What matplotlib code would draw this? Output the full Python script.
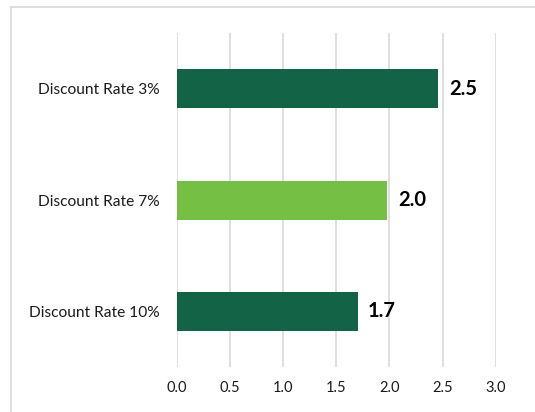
import matplotlib
matplotlib.use("Agg")
import matplotlib.pyplot as plt
from matplotlib.lines import Line2D

# --- DATA ---
categories = ["Discount Rate 3%", "Discount Rate 7%", "Discount Rate 10%"]
values = [2.46, 1.98, 1.70]
labels = ["2.5", "2.0", "1.7"]
bar_colors = ["#136446", "#74BF44", "#136446"]
xticks = [0.0, 0.5, 1.0, 1.5, 2.0, 2.5, 3.0]

plt.rcParams["font.family"] = ["Lato", "DejaVu Sans"]

fig = plt.figure(figsize=(5.35, 4.12), dpi=100)
ax = fig.add_axes([0.330, 0.109, 0.597, 0.811])

ypos = list(range(len(categories)))[::-1]
ax.barh(ypos, values, height=0.35, color=bar_colors, zorder=3)

for y, v, lab in zip(ypos, values, labels):
    ax.annotate(lab, (v, y), xytext=(7.5, 0), textcoords="offset points",
                va="center", ha="left", fontsize=14.5, fontweight="bold", color="black")

ax.set_xlim(0, 3.0)
ax.set_ylim(-0.5, 2.5)
ax.set_xticks(xticks)
ax.set_xticklabels([f"{t:.1f}" for t in xticks], fontsize=10.5, color="#1a1a1a")
ax.set_yticks(ypos)
ax.set_yticklabels(categories, fontsize=11.2, color="#1a1a1a")
ax.tick_params(axis="both", length=0)
ax.tick_params(axis="y", pad=12)
ax.tick_params(axis="x", pad=10)
ax.grid(axis="x", color="#d9d9d9", linewidth=1.2, zorder=0)
for s in ax.spines.values():
    s.set_visible(False)

# outer chart border (top and left visible)
fig.add_artist(Line2D([0.0206, 1.0], [0.983, 0.983], transform=fig.transFigure,
                      color="#d9d9d9", linewidth=1.2))
fig.add_artist(Line2D([0.0206, 0.0206], [0.0, 0.983], transform=fig.transFigure,
                      color="#d9d9d9", linewidth=1.2))

fig.savefig("out.png", dpi=100)
